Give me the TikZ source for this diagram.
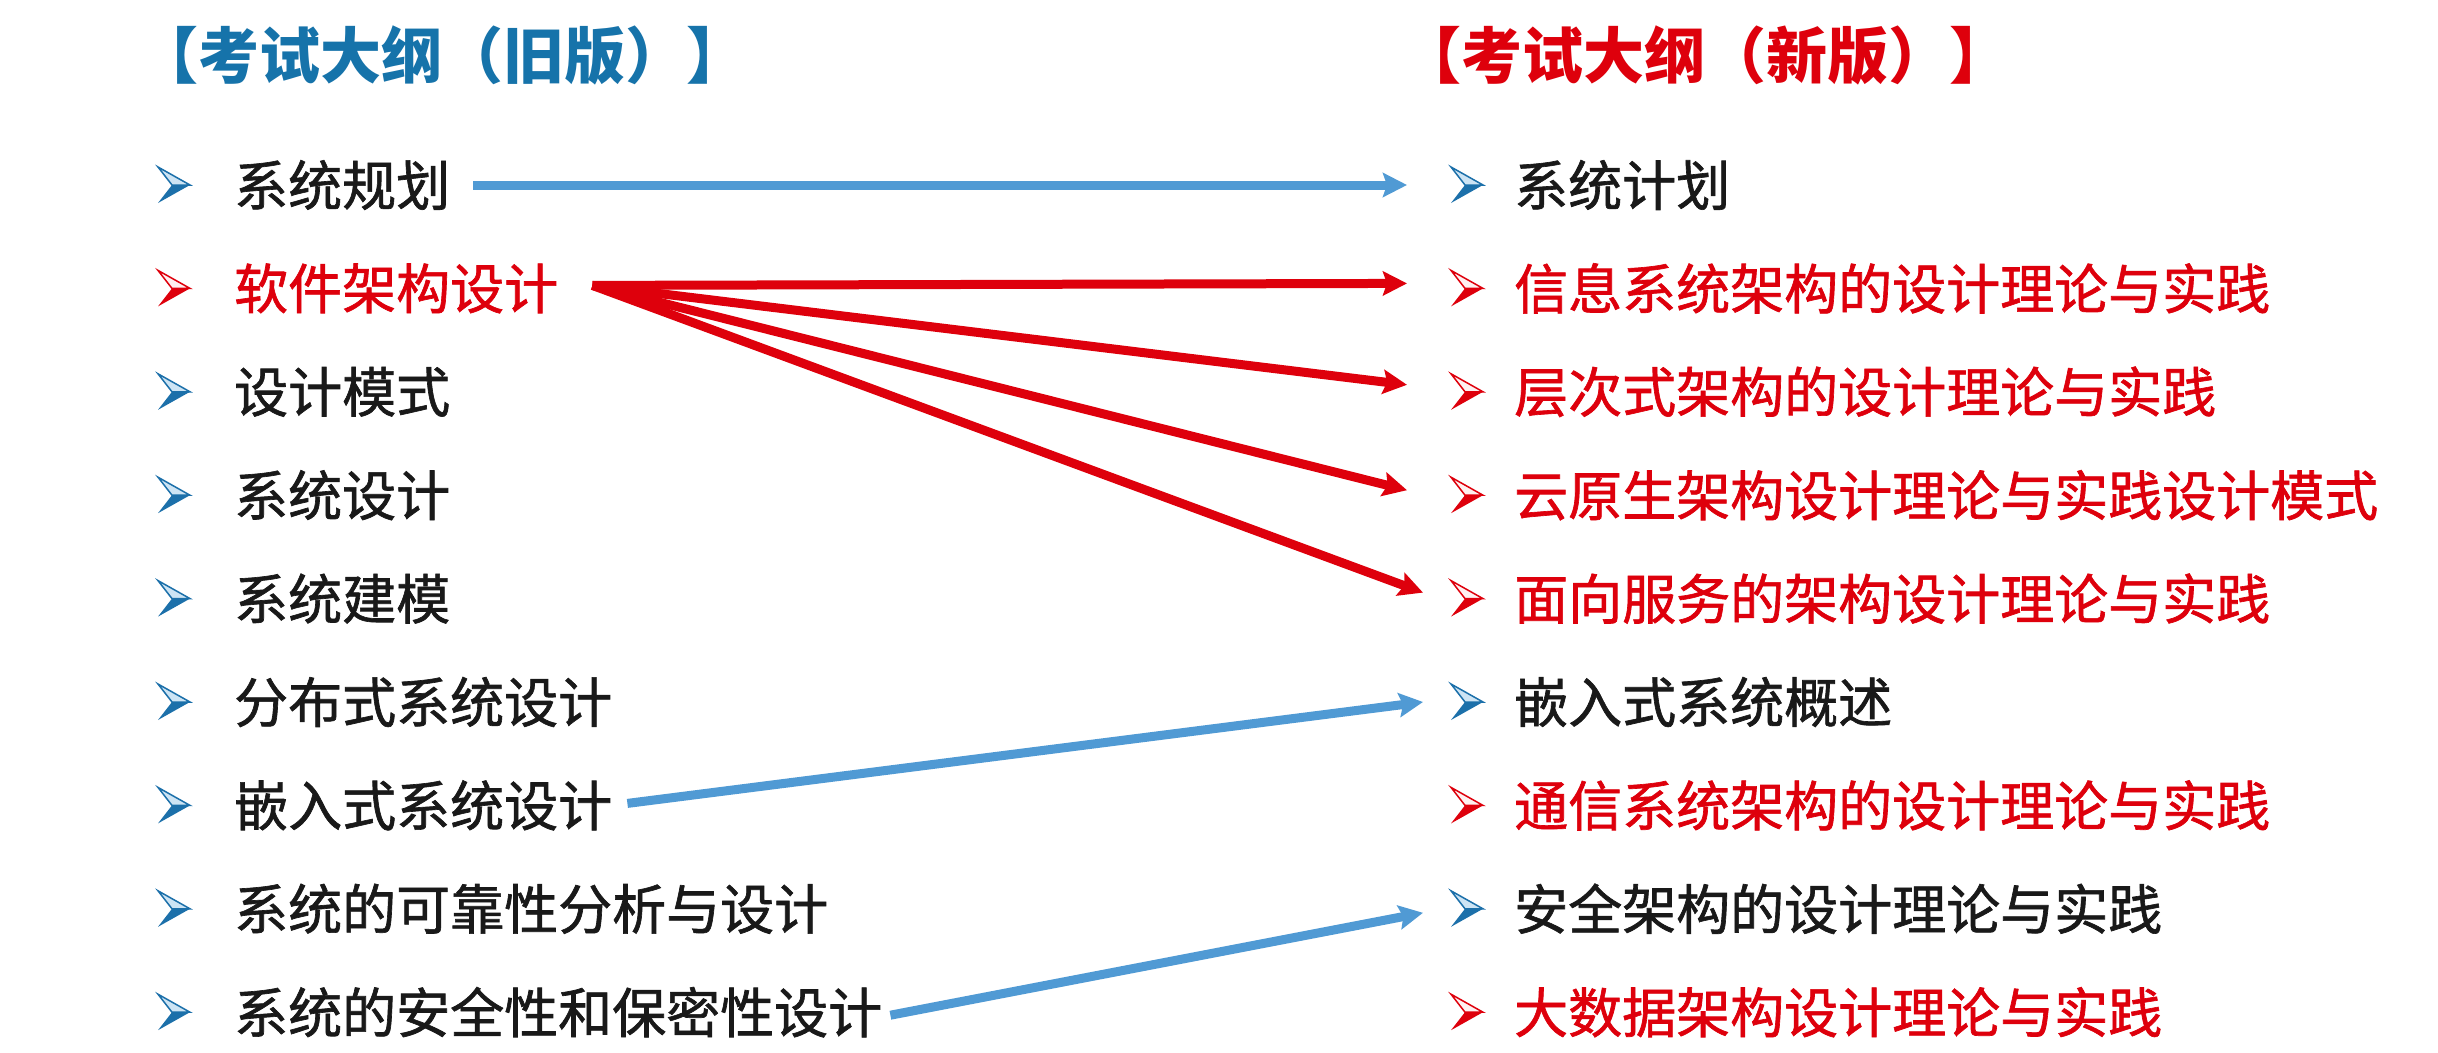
\documentclass[tikz,border=0pt]{standalone}
\usepackage{fontspec}
\newfontfamily\cjk[FakeBold=1.2]{Noto Sans CJK SC}
\newfontfamily\cjkt{Noto Sans CJK SC}
\usetikzlibrary{arrows.meta}
\definecolor{tblue}{RGB}{22,115,170}
\definecolor{tred}{RGB}{222,0,12}
\definecolor{lblue}{RGB}{80,154,212}
\definecolor{bdark}{RGB}{28,112,170}
\definecolor{blight}{RGB}{205,228,244}
\definecolor{rlight}{RGB}{255,240,240}
\begin{document}
\begin{tikzpicture}[x=1pt,y=-1pt,
  item/.style={anchor=west,inner sep=0pt,font=\cjk\fontsize{54}{54}\selectfont},
  blackitem/.style={item,text=black!90},
  reditem/.style={item,text=tred},
  ttl/.style={anchor=west,inner sep=0pt,font=\cjkt\bfseries\fontsize{61}{61}\selectfont},
  arrowtip/.style={-{Stealth[length=24pt,width=24pt,inset=4pt]}},
  bluearrow/.style={draw=lblue,line width=9pt,arrowtip},
  redarrow/.style={draw=tred,line width=9pt,arrowtip},
  bulb/.pic={\filldraw[fill=blight,draw=bdark,line width=1.5pt,line join=miter] (-16,-18)--(16,0)--(-2,0)--cycle;
             \fill[bdark] (16,0)--(-16,18)--(-2,0)--cycle;},
  bulr/.pic={\filldraw[fill=rlight,draw=tred,line width=1.5pt,line join=miter] (-16,-18)--(16,0)--(-2,0)--cycle;
             \fill[tred] (16,0)--(-16,18)--(-2,0)--cycle;}
]
\useasboundingbox[fill=white] (0,0) rectangle (2438,1052);

% titles
\node[ttl,text=tblue] (tl) at (137,55) {【考试大纲（旧版）】};
\node[ttl,text=tred] (tr) at (1400,55) {【考试大纲（新版）】};

% left column
\node[blackitem] (l1) at (234,185)    {系统规划};
\node[reditem]   (l2) at (234,288.4)  {软件架构设计};
\node[blackitem] (l3) at (234,391.8)  {设计模式};
\node[blackitem] (l4) at (234,495.2)  {系统设计};
\node[blackitem] (l5) at (234,598.6)  {系统建模};
\node[blackitem] (l6) at (234,702)    {分布式系统设计};
\node[blackitem] (l7) at (234,805.4)  {嵌入式系统设计};
\node[blackitem] (l8) at (234,908.8)  {系统的可靠性分析与设计};
\node[blackitem] (l9) at (234,1012.2) {系统的安全性和保密性设计};

\path (174,185) pic {bulb};
\path (174,288.4) pic {bulr};
\path (174,391.8) pic {bulb};
\path (174,495.2) pic {bulb};
\path (174,598.6) pic {bulb};
\path (174,702) pic {bulb};
\path (174,805.4) pic {bulb};
\path (174,908.8) pic {bulb};
\path (174,1012.2) pic {bulb};

% right column
\node[blackitem] (r1) at (1514,185)    {系统计划};
\node[reditem]   (r2) at (1514,288.4)  {信息系统架构的设计理论与实践};
\node[reditem]   (r3) at (1514,391.8)  {层次式架构的设计理论与实践};
\node[reditem]   (r4) at (1514,495.2)  {云原生架构设计理论与实践设计模式};
\node[reditem]   (r5) at (1514,598.6)  {面向服务的架构设计理论与实践};
\node[blackitem] (r6) at (1514,702)    {嵌入式系统概述};
\node[reditem]   (r7) at (1514,805.4)  {通信系统架构的设计理论与实践};
\node[blackitem] (r8) at (1514,908.8)  {安全架构的设计理论与实践};
\node[reditem]   (r9) at (1514,1012.2) {大数据架构设计理论与实践};

\coordinate (rb1) at (1467,185);
\coordinate (rb2) at (1467,288.4);
\coordinate (rb3) at (1467,391.8);
\coordinate (rb4) at (1467,495.2);
\coordinate (rb5) at (1467,598.6);
\coordinate (rb6) at (1467,702);
\coordinate (rb7) at (1467,805.4);
\coordinate (rb8) at (1467,908.8);
\coordinate (rb9) at (1467,1012.2);

\path (rb1) pic {bulb};
\path (rb2) pic {bulr};
\path (rb3) pic {bulr};
\path (rb4) pic {bulr};
\path (rb5) pic {bulr};
\path (rb6) pic {bulb};
\path (rb7) pic {bulr};
\path (rb8) pic {bulb};
\path (rb9) pic {bulr};

% connectors
\draw[bluearrow] ([xshift=23pt]l1.east) -- ([xshift=-60pt]rb1);
\draw[redarrow] ([shift={(34,-3)}]l2.east) -- ([shift={(-60,-5)}]rb2);
\draw[redarrow] ([shift={(34,-3)}]l2.east) -- ([shift={(-60,-7)}]rb3);
\draw[redarrow] ([shift={(34,-3)}]l2.east) -- ([shift={(-60,-5)}]rb4);
\draw[redarrow] ([shift={(34,-3)}]l2.east) -- ([shift={(-44,-6)}]rb5);
\draw[bluearrow] ([shift={(15,-2)}]l7.east) -- ([xshift=-44pt]rb6);
\draw[bluearrow] ([shift={(8,3)}]l9.east) -- ([shift={(-44,4)}]rb8);
\end{tikzpicture}
\end{document}
